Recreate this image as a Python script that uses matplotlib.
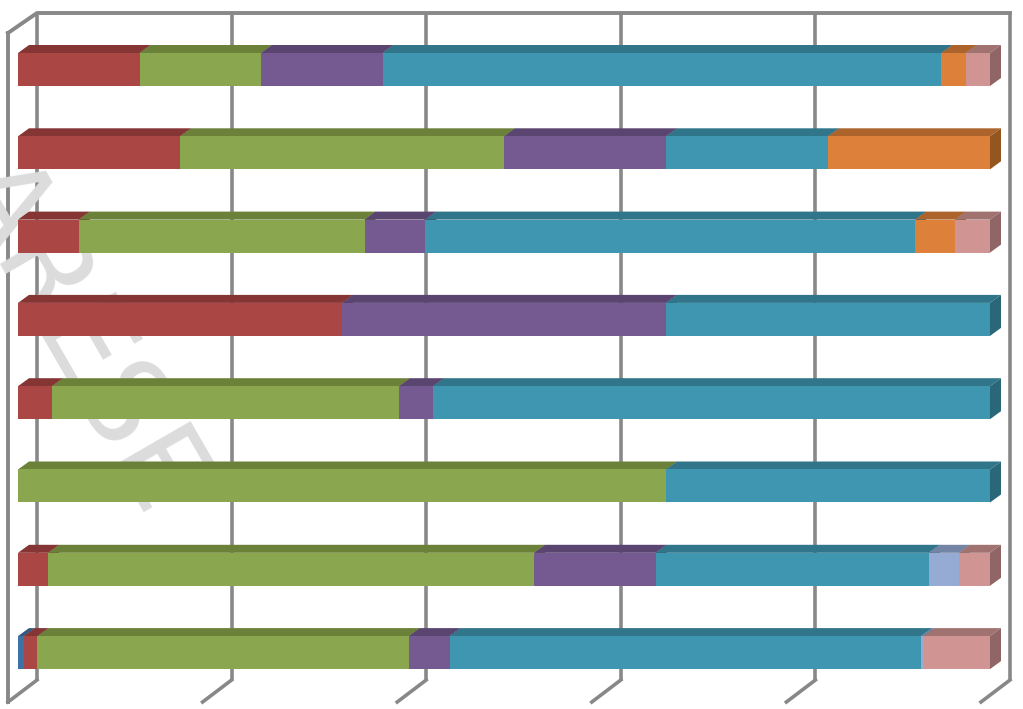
import matplotlib
matplotlib.use('Agg')
import matplotlib.pyplot as plt
import numpy as np

# share of each series per row, top row first
blue = [0, 0, 0, 0, 0, 0, 0, 0.6]
red = [12.5, 16.67, 6.25, 33.33, 3.5, 0, 3.1, 1.4]
green = [12.5, 33.33, 29.4, 0, 35.7, 66.67, 50, 38.2]
purple = [12.5, 16.67, 6.25, 33.33, 3.5, 0, 12.5, 4.2]
teal = [57.5, 16.67, 50.4, 33.34, 57.3, 33.33, 28.1, 48.5]
orange = [2.5, 16.66, 4.1, 0, 0, 0, 0, 0]
lightblue = [0, 0, 0, 0, 0, 0, 3.1, 0.3]
pink = [2.5, 0, 3.6, 0, 0, 0, 3.2, 6.8]

rows = np.arange(8)
series = [blue, red, green, purple, teal, orange, lightblue, pink]
front = ['#3D72A6', '#AA4644', '#8AA64F', '#745A91', '#3F96B1', '#DD813A', '#95ABD4', '#D09593']
top = ['#2F5981', '#843534', '#6B8139', '#5A4570', '#307589', '#AC642C', '#7384A5', '#A07371']
side = ['#2A4F73', '#752F2E', '#5F7232', '#4F3D63', '#2A6779', '#93561F', '#66759A', '#8F6665']
ticks = [0, 20, 40, 60, 80, 100]

fig = plt.figure(figsize=(10.23, 7.09), dpi=100)

# frame of the 3d box, in pixels
bg = fig.add_axes([0, 0, 1, 1])
bg.set_xlim(0, 1023)
bg.set_ylim(709, 0)
bg.axis('off')
bg.text(78, 335, 'ARESE', fontsize=85, color='#DCDCDC', rotation=-60, ha='center', va='center', rotation_mode='anchor')

gc = '#888888'
for t in ticks:
    gx = 37 + t * 9.73
    bg.plot([gx, gx], [13, 680], color=gc, lw=2.6, solid_capstyle='butt', zorder=2)
    bg.plot([gx, gx - 29], [680, 702], color=gc, lw=2.6, zorder=2)
bg.plot([8, 37, 1010], [33, 13, 13], color=gc, lw=2.8, zorder=2)
bg.plot([8, 8], [33, 702], color=gc, lw=2.8, zorder=2)

# bars, x in percent, y in rows
ax = fig.add_axes([0, 0, 1, 1])
ax.patch.set_alpha(0)
ax.set_xlim(-18 / 9.72, (1023 - 18) / 9.72)
ax.set_ylim((709 - 69.5) / 83.3, -69.5 / 83.3)
ax.axis('off')

h = 33 / 83.3
dx = 11 / 9.72
dy = 8 / 83.3
left = np.zeros(8)
for vals, c, ct, cs in zip(series, front, top, side):
    vals = np.array(vals, dtype=float)
    for y, l, w in zip(rows, left, vals):
        if w == 0:
            continue
        ax.fill([l, l + w, l + w + dx, l + dx],
                [y - h / 2, y - h / 2, y - h / 2 - dy, y - h / 2 - dy], color=ct, lw=0)
        ax.fill([l + w, l + w + dx, l + w + dx, l + w],
                [y - h / 2, y - h / 2 - dy, y + h / 2 - dy, y + h / 2], color=cs, lw=0)
    left = left + vals
# fronts go last so they sit over the side faces of neighbours
left = np.zeros(8)
for vals, c in zip(series, front):
    vals = np.array(vals, dtype=float)
    ax.barh(rows, vals, left=left, height=h, color=c, lw=0)
    left = left + vals

fig.savefig('out.png', dpi=100)
